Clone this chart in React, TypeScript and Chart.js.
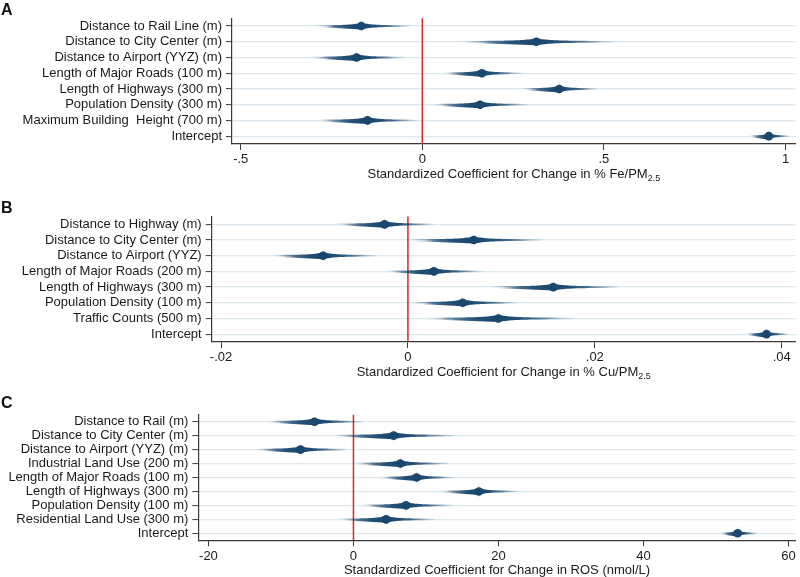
import React, { useEffect, useRef } from "react";
import { Chart, registerables } from "chart.js";

Chart.register(...registerables);

// ---------- Panel A data ----------
const aLabels = [
  "Distance to Rail Line (m)",
  "Distance to City Center (m)",
  "Distance to Airport (YYZ) (m)",
  "Length of Major Roads (100 m)",
  "Length of Highways (300 m)",
  "Population Density (300 m)",
  "Maximum Building  Height (700 m)",
  "Intercept",
];
const aCoef = [-0.168, 0.314, -0.181, 0.164, 0.377, 0.159, -0.151, 0.954];
const aLow = [-0.3, 0.1, -0.31, 0.055, 0.272, 0.026, -0.29, 0.9];
const aHigh = [-0.035, 0.53, -0.05, 0.273, 0.482, 0.292, -0.013, 1.01];
const aTicks = [-0.5, 0, 0.5, 1];
const aTickLabels = ["-.5", "0", ".5", "1"];

// ---------- Panel B data ----------
const bLabels = [
  "Distance to Highway (m)",
  "Distance to City Center (m)",
  "Distance to Airport (YYZ)",
  "Length of Major Roads (200 m)",
  "Length of Highways (300 m)",
  "Population Density (100 m)",
  "Traffic Counts (500 m)",
  "Intercept",
];
const bCoef = [-0.0025, 0.00705, -0.00907, 0.00278, 0.01556, 0.00587, 0.00968, 0.03838];
const bLow = [-0.0078, -0.0003, -0.0146, -0.0025, 0.0086, 0.0002, 0.0018, 0.0361];
const bHigh = [0.0028, 0.0144, -0.0034, 0.0079, 0.0225, 0.0116, 0.0176, 0.0407];
const bTicks = [-0.02, 0, 0.02, 0.04];
const bTickLabels = ["-.02", "0", ".02", ".04"];

// ---------- Panel C data ----------
const cLabels = [
  "Distance to Rail (m)",
  "Distance to City Center (m)",
  "Distance to Airport (YYZ) (m)",
  "Industrial Land Use (200 m)",
  "Length of Major Roads (100 m)",
  "Length of Highways (300 m)",
  "Population Density (100 m)",
  "Residential Land Use (300 m)",
  "Intercept",
];
const cCoef = [-5.37, 5.55, -7.3, 6.47, 8.71, 17.3, 7.25, 4.5, 53.0];
const cLow = [-12.0, -3.07, -13.8, -0.1, 3.48, 11.9, 1.06, -2.25, 50.5];
const cHigh = [1.28, 14.0, -0.87, 13.1, 13.9, 22.7, 13.6, 11.25, 55.7];
const cTicks = [-20, 0, 20, 40, 60];
const cTickLabels = ["-20", "0", "20", "40", "60"];

// ---------- styling ----------
const NAVY = "26,71,111";
const FONT = "'Liberation Sans', Arial, Helvetica, sans-serif";
const AXIS = "#3a3a3a";
const GRID = "#dce8ed";
const TEXT = "#1a1a1a";

type PanelCfg = {
  letter: string;
  labels: string[];
  coef: number[];
  low: number[];
  high: number[];
  ticks: number[];
  tickLabels: string[];
  xMin: number;
  xMax: number;
  titleMain: string;
  titleSub: string;
  top: number;
  height: number;
  padTop: number;
  yAxisWidth: number;
  xAxisHeight: number;
  letterBaseline: number;
};

const panels: PanelCfg[] = [
  {
    letter: "A",
    labels: aLabels,
    coef: aCoef,
    low: aLow,
    high: aHigh,
    ticks: aTicks,
    tickLabels: aTickLabels,
    xMin: -0.524,
    xMax: 1.028,
    titleMain: "Standardized Coefficient for Change in % Fe/PM",
    titleSub: "2.5",
    top: 0,
    height: 190,
    padTop: 18.2,
    yAxisWidth: 232,
    xAxisHeight: 46,
    letterBaseline: 14.5,
  },
  {
    letter: "B",
    labels: bLabels,
    coef: bCoef,
    low: bLow,
    high: bHigh,
    ticks: bTicks,
    tickLabels: bTickLabels,
    xMin: -0.021,
    xMax: 0.0415,
    titleMain: "Standardized Coefficient for Change in % Cu/PM",
    titleSub: "2.5",
    top: 198,
    height: 190,
    padTop: 18.5,
    yAxisWidth: 211.7,
    xAxisHeight: 46,
    letterBaseline: 15.3,
  },
  {
    letter: "C",
    labels: cLabels,
    coef: cCoef,
    low: cLow,
    high: cHigh,
    ticks: cTicks,
    tickLabels: cTickLabels,
    xMin: -21.4,
    xMax: 61.0,
    titleMain: "Standardized Coefficient for Change in ROS (nmol/L)",
    titleSub: "",
    top: 396,
    height: 181,
    padTop: 18.7,
    yAxisWidth: 198.3,
    xAxisHeight: 36.7,
    letterBaseline: 12.3,
  },
];

function drawSpindle(
  ctx: CanvasRenderingContext2D,
  xLo: number,
  xC: number,
  xHi: number,
  y: number
) {
  const N = 40;
  const shape = (t: number) => 0.7 + 0.6 * (1 - t) + 2.2 * Math.pow(1 - t, 6);
  const pts: [number, number][] = [];
  for (let i = 0; i <= N; i++) {
    const t = 1 - i / N;
    pts.push([xC - (xC - xLo) * t, y - shape(t)]);
  }
  for (let i = 1; i <= N; i++) {
    const t = i / N;
    pts.push([xC + (xHi - xC) * t, y - shape(t)]);
  }
  for (let i = N; i >= 0; i--) {
    const t = i / N;
    pts.push([xC + (xHi - xC) * t, y + shape(t)]);
  }
  for (let i = 1; i <= N; i++) {
    const t = 1 - i / N;
    pts.push([xC - (xC - xLo) * t, y + shape(t)]);
  }
  const span = xHi - xLo;
  if (span <= 0) return;
  const f = (xC - xLo) / span;
  const g = ctx.createLinearGradient(xLo, 0, xHi, 0);
  const stops: [number, number][] = [
    [1, 0.08],
    [0.85, 0.25],
    [0.7, 0.5],
    [0.5, 0.8],
    [0.3, 0.95],
    [0, 1],
  ];
  stops.forEach(([t, a]) => g.addColorStop(Math.max(0, Math.min(1, f * (1 - t))), `rgba(${NAVY},${a})`));
  stops
    .slice()
    .reverse()
    .forEach(([t, a]) => g.addColorStop(Math.max(0, Math.min(1, f + (1 - f) * t)), `rgba(${NAVY},${a})`));
  ctx.fillStyle = g;
  ctx.beginPath();
  pts.forEach(([px, py], i) => (i === 0 ? ctx.moveTo(px, py) : ctx.lineTo(px, py)));
  ctx.closePath();
  ctx.fill();

  // faint vertical spike at the estimate
  const vg = ctx.createLinearGradient(0, y - 9, 0, y + 9);
  vg.addColorStop(0, `rgba(${NAVY},0)`);
  vg.addColorStop(0.5, `rgba(${NAVY},0.55)`);
  vg.addColorStop(1, `rgba(${NAVY},0)`);
  ctx.fillStyle = vg;
  ctx.beginPath();
  ctx.moveTo(xC, y - 9);
  ctx.quadraticCurveTo(xC + 0.3, y - 2, xC + 1.3, y);
  ctx.quadraticCurveTo(xC + 0.3, y + 2, xC, y + 9);
  ctx.quadraticCurveTo(xC - 0.3, y + 2, xC - 1.3, y);
  ctx.quadraticCurveTo(xC - 0.3, y - 2, xC, y - 9);
  ctx.fill();
}

const coefPlugin = {
  id: "coefPlot",
  beforeDatasetsDraw(chart: any) {
    const { ctx, chartArea } = chart;
    const x = chart.scales.x;
    const y = chart.scales.y;
    ctx.save();
    ctx.beginPath();
    ctx.rect(chartArea.left, chartArea.top - 10, chartArea.right - chartArea.left, chartArea.bottom - chartArea.top + 10);
    ctx.clip();
    const x0 = x.getPixelForValue(0);
    ctx.strokeStyle = "#d42a2a";
    ctx.lineWidth = 1.5;
    ctx.beginPath();
    ctx.moveTo(x0, chartArea.top);
    ctx.lineTo(x0, chartArea.bottom);
    ctx.stroke();
    const ci = chart.data.datasets[0].data as [number, number][];
    const cf = chart.data.datasets[1].data as number[];
    ci.forEach((r, i) => {
      const yy = y.getPixelForValue(i);
      drawSpindle(ctx, x.getPixelForValue(r[0]), x.getPixelForValue(cf[i]), x.getPixelForValue(r[1]), yy);
    });
    ctx.restore();
  },
  afterDraw(chart: any, _args: any, opts: any) {
    const { ctx, chartArea } = chart;
    ctx.save();
    ctx.fillStyle = TEXT;
    const cx = (chartArea.left + chartArea.right) / 2;
    const ty = chartArea.bottom + 30.5;
    ctx.font = `13px ${FONT}`;
    const wMain = ctx.measureText(opts.titleMain).width;
    ctx.font = `9px ${FONT}`;
    const wSub = opts.titleSub ? ctx.measureText(opts.titleSub).width : 0;
    const start = cx - (wMain + wSub) / 2;
    ctx.textBaseline = "middle";
    ctx.textAlign = "left";
    ctx.font = `13px ${FONT}`;
    ctx.fillText(opts.titleMain, start, ty);
    if (opts.titleSub) {
      ctx.font = `9px ${FONT}`;
      ctx.fillText(opts.titleSub, start + wMain, ty + 4.5);
    }
    ctx.font = `bold 16px ${FONT}`;
    ctx.textBaseline = "alphabetic";
    ctx.fillStyle = "#111";
    ctx.fillText(opts.letter, 1, opts.letterBaseline);
    ctx.restore();
  },
};

function CoefPanel({ cfg }: { cfg: PanelCfg }) {
  const ref = useRef<HTMLCanvasElement>(null);
  useEffect(() => {
    if (!ref.current) return;
    const chart = new Chart(ref.current, {
      type: "bar",
      data: {
        labels: cfg.labels,
        datasets: [
          {
            type: "bar",
            label: "95% CI",
            data: cfg.low.map((l, i) => [l, cfg.high[i]]) as any,
            backgroundColor: "rgba(0,0,0,0)",
            borderWidth: 0,
          },
          {
            type: "line",
            label: "Coefficient",
            data: cfg.coef,
            showLine: false,
            pointStyle: "circle",
            pointRadius: 4.3,
            pointBorderWidth: 0,
            pointBackgroundColor: `rgb(${NAVY})`,
            borderColor: `rgb(${NAVY})`,
          } as any,
        ],
      },
      options: {
        indexAxis: "y",
        responsive: false,
        animation: false,
        events: [],
        layout: { padding: { top: cfg.padTop, right: 3, bottom: 0, left: 0 } },
        plugins: {
          legend: { display: false },
          tooltip: { enabled: false },
          title: { display: false },
          coefPlot: {
            titleMain: cfg.titleMain,
            titleSub: cfg.titleSub,
            letter: cfg.letter,
            letterBaseline: cfg.letterBaseline,
          },
        } as any,
        scales: {
          x: {
            type: "linear",
            position: "bottom",
            min: cfg.xMin,
            max: cfg.xMax,
            afterBuildTicks: (s: any) => {
              s.ticks = cfg.ticks.map((v) => ({ value: v }));
            },
            afterFit: (s: any) => {
              s.height = cfg.xAxisHeight;
            },
            ticks: {
              autoSkip: false,
              maxRotation: 0,
              padding: 2,
              color: TEXT,
              font: { family: FONT, size: 13 },
              callback: (_v: any, i: number) => cfg.tickLabels[i],
            },
            grid: {
              drawOnChartArea: false,
              drawTicks: true,
              tickLength: 6,
              tickColor: AXIS,
              tickWidth: 1,
            },
            border: { display: true, color: AXIS, width: 1.2 },
          },
          y: {
            type: "category",
            position: "left",
            offset: true,
            afterFit: (s: any) => {
              s.width = cfg.yAxisWidth;
            },
            ticks: {
              autoSkip: false,
              padding: 4,
              color: TEXT,
              font: { family: FONT, size: 13 },
            },
            grid: {
              offset: false,
              color: GRID,
              lineWidth: 1.2,
              drawTicks: true,
              tickLength: 6,
              tickColor: AXIS,
              tickWidth: 1,
            },
            border: { display: true, color: AXIS, width: 1.2 },
          },
        },
      },
      plugins: [coefPlugin],
    } as any);
    return () => chart.destroy();
  }, [cfg]);
  return (
    <canvas
      ref={ref}
      width={800}
      height={cfg.height}
      style={{ position: "absolute", left: 0, top: cfg.top, width: 800, height: cfg.height }}
    />
  );
}

export default function App() {
  return (
    <div
      style={{
        position: "absolute",
        left: 0,
        top: 0,
        width: 800,
        height: 577,
        overflow: "hidden",
        background: "#ffffff",
      }}
    >
      {panels.map((p) => (
        <CoefPanel key={p.letter} cfg={p} />
      ))}
    </div>
  );
}
